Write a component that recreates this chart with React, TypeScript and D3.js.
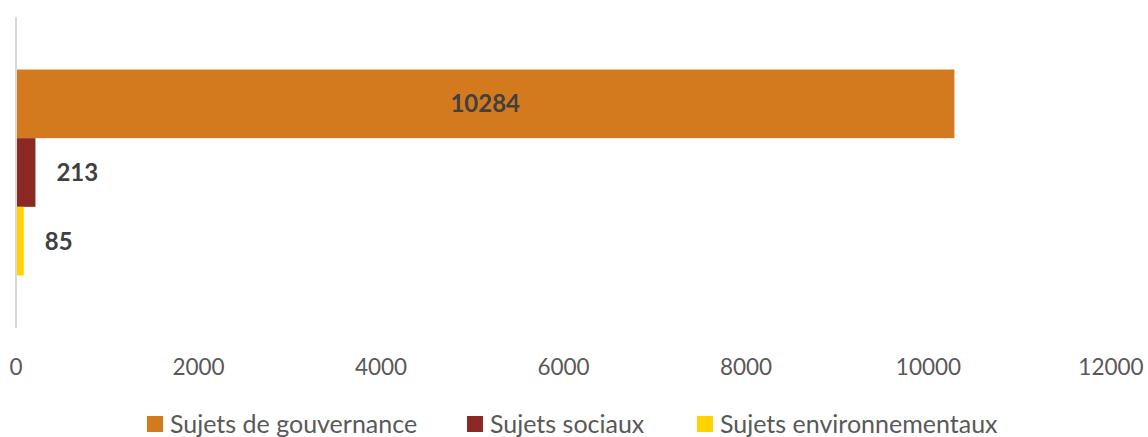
import React from "react";
import * as d3 from "d3";

const series = ["Sujets de gouvernance", "Sujets sociaux", "Sujets environnementaux"];
const values = [10284, 213, 85];
const colors = ["#D47A1E", "#8B2A24", "#FFD300"];
const xTicks = [0, 2000, 4000, 6000, 8000, 10000, 12000];

const W = 1148;
const H = 437;
const font = "'Source Sans Pro', Lato, 'Open Sans', sans-serif";

export default function App() {
  // plot area
  const left = 16, right = 1111, top = 17, bottom = 328;

  const x = d3.scaleLinear().domain([0, 12000]).range([left, right]);
  const y = d3.scaleBand<string>().domain(series).range([top, bottom]).paddingOuter(0.765).paddingInner(0);

  // legend positions (per item start x)
  const legendX = [147, 467, 697];

  return (
    <svg width={W} height={H} style={{ position: "absolute", left: 0, top: 0, background: "#fff" }}>
      {series.map((s, i) => {
        const y0 = y(s)!;
        const x1 = x(values[i]);
        const w = x1 - x(0);
        const inside = w > 100;
        return (
          <g key={s}>
            <rect x={x(0)} y={y0} width={w} height={y.bandwidth()} fill={colors[i]} />
            <text
              x={inside ? (x(0) + x1) / 2 : x1 + 21}
              y={y0 + y.bandwidth() / 2}
              dy="0.35em"
              textAnchor={inside ? "middle" : "start"}
              fontFamily={font}
              fontWeight="bold"
              fontSize={24}
              fill="#404040"
            >
              {values[i]}
            </text>
          </g>
        );
      })}

      {/* vertical axis line */}
      <line x1={left} x2={left} y1={top} y2={bottom} stroke="#d9d9d9" strokeWidth={2} />

      {xTicks.map((t) => (
        <text
          key={t}
          x={x(t)}
          y={367}
          dy="0.35em"
          textAnchor="middle"
          fontFamily={font}
          fontSize={22.5}
          fill="#595959"
        >
          {t}
        </text>
      ))}

      {series.map((s, i) => (
        <g key={"lg" + s} transform={`translate(${legendX[i]},0)`}>
          <rect x={0} y={416} width={16} height={16} fill={colors[i]} />
          <text x={23} y={424} dy="0.35em" fontFamily={font} fontSize={25} fill="#595959">
            {s}
          </text>
        </g>
      ))}
    </svg>
  );
}
